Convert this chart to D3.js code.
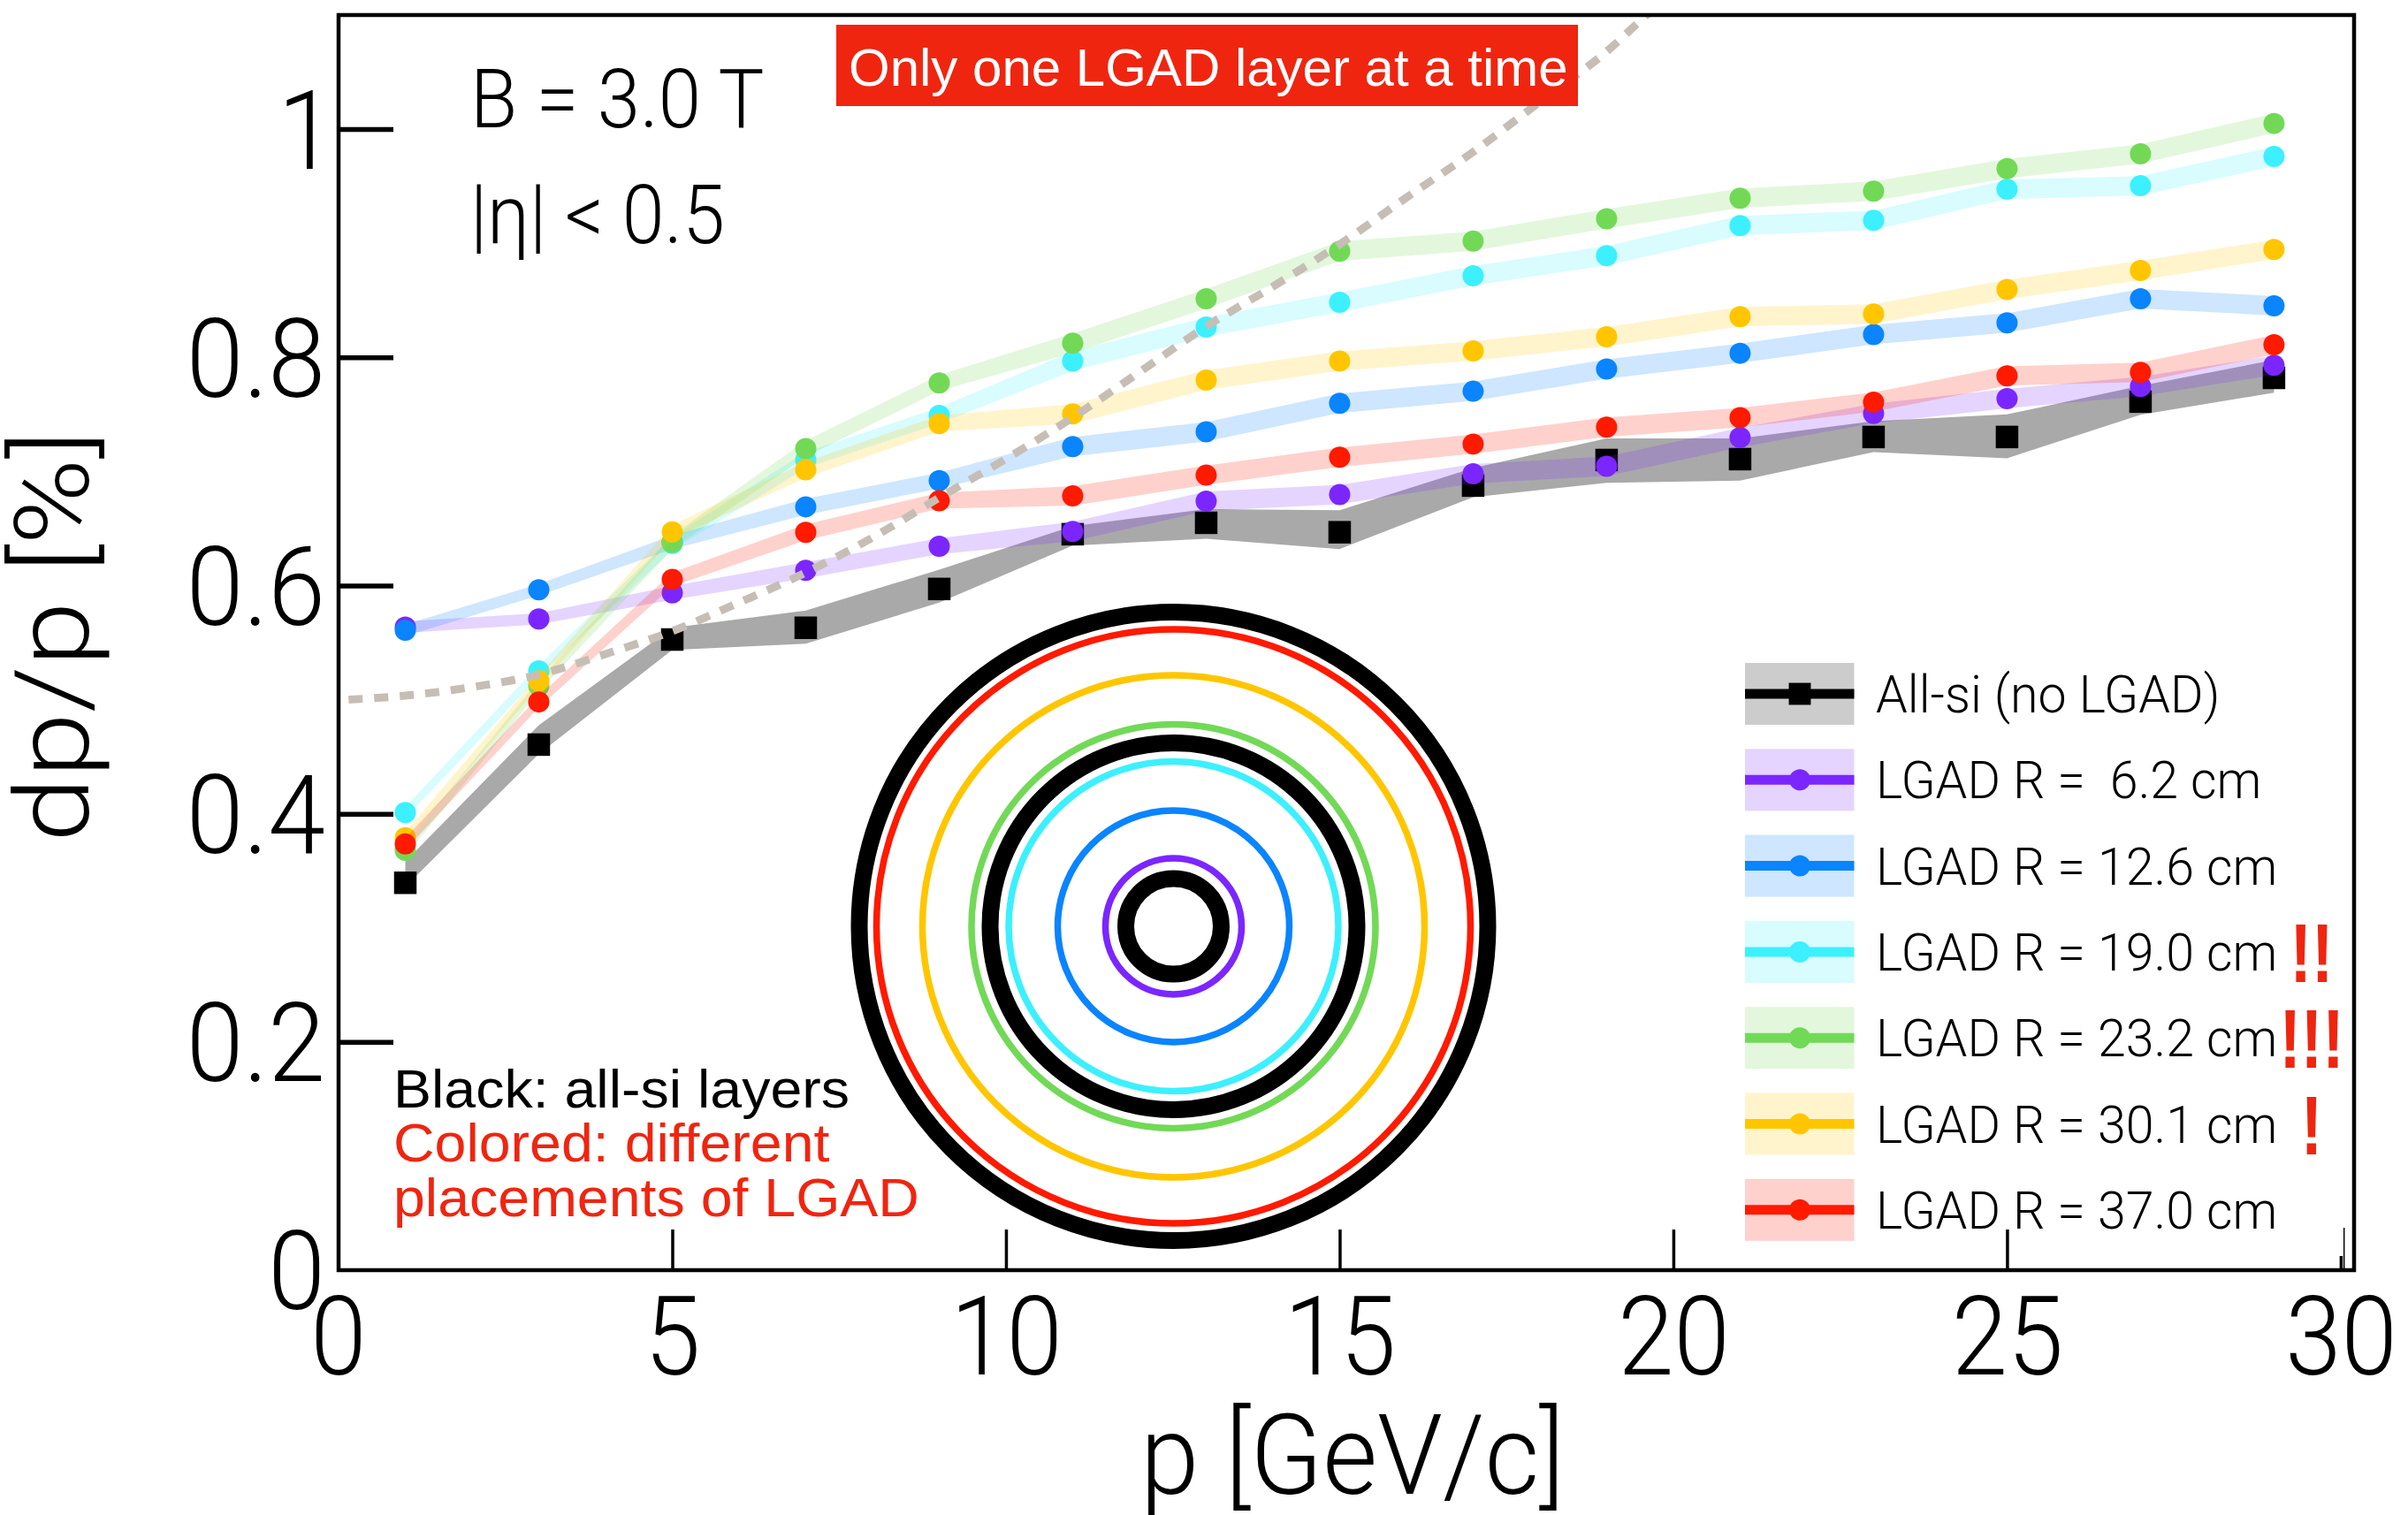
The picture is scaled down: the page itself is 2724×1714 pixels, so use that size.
<!DOCTYPE html>
<html>
<head>
<meta charset="utf-8">
<script src="https://cdn.jsdelivr.net/npm/d3@7"></script>
<style>
  body { margin: 0; background: #fff; }
  text { font-family: Roboto, "Liberation Sans", sans-serif; white-space: pre; }
</style>
</head>
<body>
<script>
// Chart values.
const momentum = [1, 3, 5, 7, 9, 11, 13, 15, 17, 19, 21, 23, 25, 27, 29];
const allSi = [0.3395, 0.4606, 0.5527, 0.563, 0.597, 0.645, 0.655, 0.6467, 0.6876, 0.71, 0.7108, 0.7302, 0.7302, 0.7612, 0.782];
const allSiLow = [0.336, 0.4523, 0.5436, 0.549, 0.585, 0.635, 0.641, 0.632, 0.6775, 0.69, 0.692, 0.717, 0.7116, 0.7496, 0.769];
const allSiHigh = [0.358, 0.4775, 0.563, 0.578, 0.614, 0.652, 0.667, 0.666, 0.703, 0.729, 0.729, 0.744, 0.75, 0.775, 0.7977];
const lgad62 = [0.5636, 0.5708, 0.5935, 0.6134, 0.6345, 0.6474, 0.6739, 0.6798, 0.698, 0.7045, 0.7297, 0.7509, 0.7638, 0.7744, 0.793];
const lgad126 = [0.5608, 0.5963, 0.638, 0.669, 0.692, 0.7217, 0.7347, 0.7597, 0.7703, 0.7897, 0.8036, 0.82, 0.8302, 0.8514, 0.8452];
const lgad190 = [0.401, 0.5252, 0.637, 0.71, 0.749, 0.7967, 0.8266, 0.8483, 0.8715, 0.8891, 0.9155, 0.92, 0.9473, 0.9504, 0.976];
const lgad232 = [0.368, 0.512, 0.638, 0.72, 0.7775, 0.8124, 0.8514, 0.893, 0.9018, 0.9214, 0.9394, 0.9457, 0.9654, 0.9783, 1.005];
const lgad301 = [0.379, 0.5165, 0.647, 0.7015, 0.742, 0.7504, 0.78, 0.7967, 0.8057, 0.8181, 0.8357, 0.838, 0.8595, 0.8762, 0.8945];
const lgad370 = [0.3736, 0.498, 0.6054, 0.6466, 0.6744, 0.6786, 0.6967, 0.7124, 0.724, 0.7388, 0.7472, 0.7608, 0.7837, 0.7868, 0.8111];
const lgadErr = [0.005, 0.005, 0.006, 0.007, 0.007, 0.0085, 0.0085, 0.0085, 0.0085, 0.0085, 0.0085, 0.0085, 0.0085, 0.0085, 0.0085];

// Dashed reference curve.
const refP = [0.15, 1, 2, 3, 4, 5, 6, 7, 8, 9, 10, 11, 12, 13, 14, 15, 16, 17, 18, 19, 19.6, 20];
const refV = [0.5, 0.5035, 0.511, 0.522, 0.54, 0.56, 0.585, 0.6114, 0.642, 0.677, 0.711, 0.7473, 0.787, 0.827, 0.862, 0.899, 0.94, 0.98, 1.024, 1.068, 1.1, 1.12];

const xTicks = [5, 10, 15, 20, 25, 30];
const yTicks = [0.2, 0.4, 0.6, 0.8, 1];
const layerRadii = [3.5, 6.2, 12.6, 19.0, 21.7, 23.2, 30.1, 37.0, 39.2];

const lgadNames = ["LGAD R =  6.2 cm", "LGAD R = 12.6 cm", "LGAD R = 19.0 cm", "LGAD R = 23.2 cm", "LGAD R = 30.1 cm", "LGAD R = 37.0 cm"];
const lgadValues = [lgad62, lgad126, lgad190, lgad232, lgad301, lgad370];
const lgadColors = ["#7b26ff", "#0a84ff", "#3cf0ff", "#72d957", "#ffc600", "#ff1a00"];
const lgadMarks = ["", "", "!!", "!!!", "!", ""];

const red = "#ef2510";
const helvetica = "Liberation Sans";
const width = 2724;
const height = 1714;
const marginLeft = 383;
const marginRight = 61;
const marginTop = 17;
const marginBottom = 277;

const x = d3.scaleLinear([0, 30.2], [marginLeft, width - marginRight]);
const y = d3.scaleLinear([0, 1.1], [height - marginBottom, marginTop]);

const svg = d3.select("body").append("svg")
  .attr("width", width)
  .attr("height", height)
  .attr("viewBox", [0, 0, width, height]);

svg.append("clipPath").attr("id", "plot").append("rect")
  .attr("x", marginLeft).attr("y", marginTop)
  .attr("width", width - marginLeft - marginRight)
  .attr("height", height - marginTop - marginBottom);

// Squeezed text, the original lettering is narrower than any installed font.
function label(parent, str, px, py, size, sx, opts = {}) {
  return parent.append("text")
    .attr("transform", `translate(${px},${py}) rotate(${opts.rotate || 0}) scale(${sx},1)`)
    .attr("font-size", size)
    .attr("font-weight", opts.weight || 300)
    .attr("fill", opts.fill || "#000")
    .attr("text-anchor", opts.anchor || "start")
    .style("font-family", opts.font || null)
    .text(str);
}

// Error bands, all-si first.
const area = d3.area().x((d) => x(d.p)).y0((d) => y(d.lo)).y1((d) => y(d.hi));
svg.append("path")
  .attr("fill", "#a9a9a9")
  .attr("d", area(momentum.map((p, i) => ({ p, lo: allSiLow[i], hi: allSiHigh[i] }))));
svg.append("g").selectAll("path").data(momentum).join("path")
  .attr("d", d3.symbol(d3.symbolSquare, 650))
  .attr("transform", (p, i) => `translate(${x(p)},${y(allSi[i])})`);

// LGAD series, band then dots.
lgadValues.forEach((values, s) => {
  const g = svg.append("g");
  g.append("path")
    .attr("fill", lgadColors[s])
    .attr("fill-opacity", 0.2)
    .attr("d", area(momentum.map((p, i) => ({ p, lo: values[i] - lgadErr[i], hi: values[i] + lgadErr[i] }))));
  g.selectAll("circle").data(values).join("circle")
    .attr("cx", (d, i) => x(momentum[i]))
    .attr("cy", (d) => y(d))
    .attr("r", 12)
    .attr("fill", lgadColors[s]);
});

// Dashed curve sits on top of the dots.
const refLine = d3.line().x((d) => x(d[0])).y((d) => y(d[1])).curve(d3.curveMonotoneX);
svg.append("path")
  .attr("clip-path", "url(#plot)")
  .attr("fill", "none")
  .attr("stroke", "#c6beb5")
  .attr("stroke-width", 9)
  .attr("stroke-dasharray", "16,13")
  .attr("d", refLine(refP.map((p, i) => [p, refV[i]])));

// Layer rings.
const ringCx = 1327.5;
const ringCy = 1048;
const ring = d3.scaleLinear(layerRadii, [54, 77, 131, 186.5, 207.5, 228.5, 284, 336, 355.5]);
const ringColors = ["#000", lgadColors[0], lgadColors[1], lgadColors[2], "#000", lgadColors[3], lgadColors[4], lgadColors[5], "#000"];
svg.append("g").attr("fill", "none").selectAll("circle").data(layerRadii).join("circle")
  .attr("cx", ringCx)
  .attr("cy", ringCy)
  .attr("r", (d) => ring(d))
  .attr("stroke", (d, i) => ringColors[i])
  .attr("stroke-width", (d, i) => (ringColors[i] === "#000" ? 19 : 7.5));

// Frame.
svg.append("rect")
  .attr("x", marginLeft).attr("y", marginTop)
  .attr("width", width - marginLeft - marginRight)
  .attr("height", height - marginTop - marginBottom)
  .attr("fill", "none")
  .attr("stroke", "#000")
  .attr("stroke-width", 4.5);

// X axis, ticks point inwards, the last one is short.
const tickFont = (g, transform) => g.attr("transform", transform)
  .attr("y", null).attr("x", null).attr("dy", null)
  .attr("font-size", 124).attr("font-weight", 300)
  .attr("fill", "#000");

svg.append("g")
  .attr("transform", `translate(0,${height - marginBottom})`)
  .call(d3.axisBottom(x).tickValues(xTicks).tickFormat(d3.format("d")).tickSize(-46).tickPadding(0))
  .call((g) => g.select(".domain").remove())
  .call((g) => g.selectAll(".tick line").attr("stroke", "#000").attr("stroke-width", 3.5)
    .attr("y2", (d) => (d === 30 ? -16 : -46)))
  .call((g) => tickFont(g.selectAll(".tick text"), "translate(0,118) scale(0.92,1)"));
svg.append("line")
  .attr("x1", x(30.05)).attr("x2", x(30.05))
  .attr("y1", height - marginBottom - 48).attr("y2", height - marginBottom)
  .attr("stroke", "#000").attr("stroke-width", 1.5);

// Y axis.
svg.append("g")
  .attr("transform", `translate(${marginLeft},0)`)
  .call(d3.axisLeft(y).tickValues(yTicks).tickFormat((d) => String(d)).tickSize(-62).tickPadding(0))
  .call((g) => g.select(".domain").remove())
  .call((g) => g.selectAll(".tick line").attr("stroke", "#000").attr("stroke-width", 5.5))
  .call((g) => tickFont(g.selectAll(".tick text"), (d) => `translate(${d === 1 ? -4 : -15},44) scale(0.94,1)`));

// The two zeros at the origin.
label(svg, "0", x(0), height - marginBottom + 118, 124, 0.92, { anchor: "middle" });
label(svg, "0", marginLeft - 15, height - marginBottom + 44, 124, 0.94, { anchor: "end" });

// Axis titles.
label(svg, "p [GeV/c]", 1530, 1690, 126, 0.95, { anchor: "middle" });
label(svg, "dp/p [%]", 100, 720, 116, 1.14, { anchor: "middle", rotate: -90 });

// Annotations.
label(svg, "B = 3.0 T", 532, 144, 92, 0.945);
label(svg, "|η| < 0.5", 532, 275, 92, 0.935);

svg.append("rect").attr("x", 946).attr("y", 28).attr("width", 839).attr("height", 92).attr("fill", red);
label(svg, "Only one LGAD layer at a time", 960, 97, 60, 1, { fill: "#fff", weight: 400, font: helvetica });

label(svg, "Black: all-si layers", 445, 1253, 62, 1.04, { weight: 400, font: helvetica });
label(svg, "Colored: different", 445, 1314, 62, 1.04, { weight: 400, fill: red, font: helvetica });
label(svg, "placements of LGAD", 445, 1376, 62, 1.04, { weight: 400, fill: red, font: helvetica });

// Legend, all-si row first.
const legend = svg.append("g");
const rowY = d3.scaleLinear([0, 6], [785, 785 + 6 * 97.3]);
const legendRows = [{ name: "All-si (no LGAD)", color: "#000", mark: "" }]
  .concat(lgadNames.map((name, i) => ({ name, color: lgadColors[i], mark: lgadMarks[i] })));
legendRows.forEach((row, i) => {
  const cy = rowY(i);
  legend.append("rect")
    .attr("x", 1974).attr("y", cy - 35).attr("width", 123.5).attr("height", 70)
    .attr("fill", row.color).attr("fill-opacity", 0.2);
  legend.append("line")
    .attr("x1", 1974).attr("x2", 2097.5).attr("y1", cy).attr("y2", cy)
    .attr("stroke", row.color).attr("stroke-width", 11);
  legend.append("path")
    .attr("d", d3.symbol(i === 0 ? d3.symbolSquare : d3.symbolCircle, i === 0 ? 620 : 452))
    .attr("transform", `translate(2036,${cy})`)
    .attr("fill", row.color);
  label(legend, row.name, 2122, cy + 21, 60, 0.955);
  if (row.mark) {
    label(legend, row.mark, 2615, cy + 34, 94, 0.78, { anchor: "middle", weight: 700, fill: red, font: helvetica });
  }
});
</script>
</body>
</html>
